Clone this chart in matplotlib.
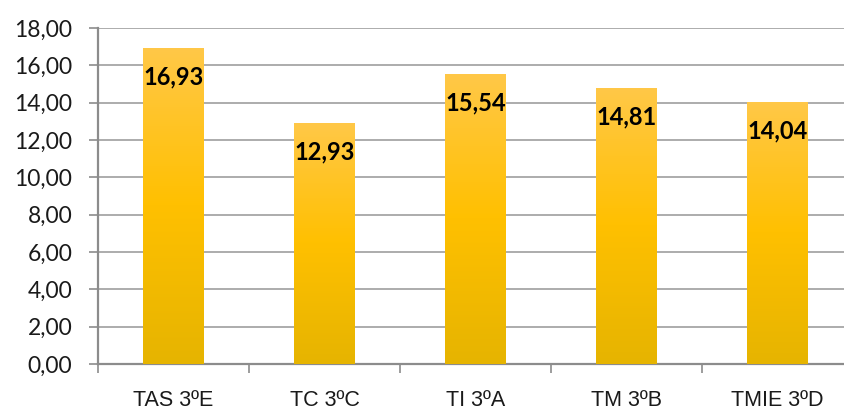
import numpy as np
import matplotlib
matplotlib.use("Agg")
import matplotlib.pyplot as plt
from matplotlib.colors import LinearSegmentedColormap

categories = ["TAS 3ºE", "TC 3ºC", "TI 3ºA", "TM 3ºB", "TMIE 3ºD"]
values = [16.93, 12.93, 15.54, 14.81, 14.04]
yticks = [0, 2, 4, 6, 8, 10, 12, 14, 16, 18]

W, H = 844, 417
fig = plt.figure(figsize=(W / 100, H / 100), dpi=100)
left_px, right_px, top_px, bottom_px = 98, 853, 28, 364
ax = fig.add_axes([left_px / W, 1 - bottom_px / H,
                   (right_px - left_px) / W, (bottom_px - top_px) / H])

x = np.arange(len(categories))
bars = ax.bar(x, values, width=0.40, color="none", edgecolor="none", zorder=3)

# vertical gold gradient: light at top, saturated middle, darker at base
cmap = LinearSegmentedColormap.from_list(
    "gold", [(0.0, "#E6B400"), (0.5, "#FFC000"), (1.0, "#FFC848")])
grad = np.linspace(0, 1, 256).reshape(-1, 1)
for b in bars:
    x0, w, h = b.get_x(), b.get_width(), b.get_height()
    im = ax.imshow(grad, cmap=cmap, origin="lower", aspect="auto",
                   extent=(x0, x0 + w, 0, h), zorder=3)
    im.set_clip_path(b)

for xi, v in zip(x, values):
    ax.annotate(f"{v:.2f}".replace(".", ","), (xi, v), xytext=(0, -21),
                textcoords="offset points", ha="center", va="center",
                fontsize=17, fontweight="bold", family="Lato", color="black",
                zorder=5)

ax.set_xlim(-0.5, len(categories) - 0.5)
ax.set_ylim(0, 18)
ax.set_yticks(yticks)
ax.set_yticklabels([f"{t:.2f}".replace(".", ",") for t in yticks],
                   fontsize=16.5, family="Lato", color="#1a1a1a")
ax.set_xticks(x)
ax.set_xticklabels(categories, fontsize=15.5, family="Liberation Sans",
                   color="#1a1a1a")
ax.set_xticks(np.arange(len(categories) + 1) - 0.5, minor=True)
ax.tick_params(axis="x", which="major", length=0, pad=19)
ax.tick_params(axis="x", which="minor", length=6.5, width=1.2, color="#8c8c8c")
ax.tick_params(axis="y", length=6.5, width=1.2, color="#8c8c8c", pad=12)

ax.yaxis.grid(True, color="#a6a6a6", linewidth=1.3, zorder=0)
ax.set_axisbelow(True)
for s in ["top", "right"]:
    ax.spines[s].set_visible(False)
for s in ["left", "bottom"]:
    ax.spines[s].set_color("#8c8c8c")
    ax.spines[s].set_linewidth(1.6)

fig.savefig("out.png", dpi=100)
